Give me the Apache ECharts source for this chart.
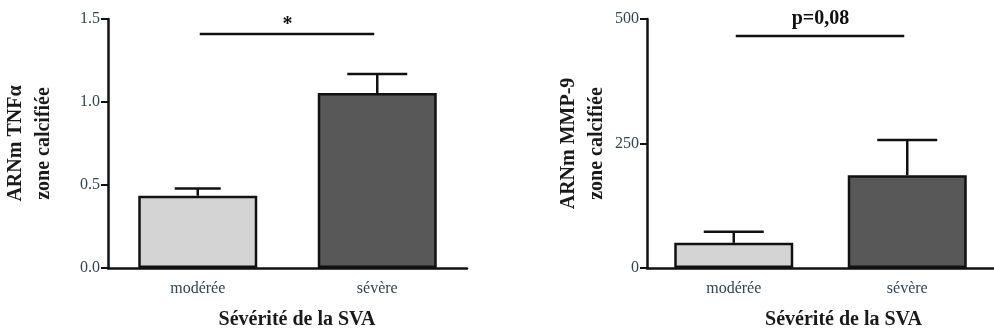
<!DOCTYPE html>
<html><head><meta charset="utf-8">
<script src="https://cdn.jsdelivr.net/npm/echarts@6/dist/echarts.min.js"></script>
<style>html,body{margin:0;padding:0;background:#fff}#c{width:994px;height:335px}</style>
</head><body><div id="c"></div>
<script>
// ---- data ----
const categories = ['modérée', 'sévère'];
const tnfMean = [0.435, 1.054];
const tnfUpper = [0.479, 1.168];
const mmpMean = [50.6, 186.4];
const mmpUpper = [72.7, 257];
const tnfTicks = [0, 0.5, 1.0, 1.5];
const mmpTicks = [0, 250, 500];
const tnfSig = [[0, 1, 1.41, '*']];
const mmpSig = [[0, 1, 466, 'p=0,08']];
const xName = 'Sévérité de la SVA';
const tnfName = 'ARNm TNFα\nzone calcifiée';
const mmpName = 'ARNm MMP-9\nzone calcifiée';

// ---- style ----
const serif = '"Liberation Serif","Times New Roman",serif';
const tickColor = '#2f4556';
const barColors = ['#d4d4d4', '#585858'];
const capW = [[46, 60], [60, 60]];

const chart = echarts.init(document.getElementById('c'));

function xAxisCfg(gi, pad) {
  return {
    type: 'category', gridIndex: gi, data: categories,
    axisLine: {lineStyle: {color: '#111', width: 2.5}},
    axisTick: {alignWithLabel: true, length: 6, lineStyle: {color: '#111', width: 2}},
    axisLabel: {fontFamily: serif, fontSize: 16, color: tickColor, margin: 13},
    name: xName, nameLocation: 'middle', nameGap: 42,
    nameTextStyle: {fontFamily: serif, fontSize: 20, fontWeight: 'bold', color: '#1a1a1a', padding: [0, 0, 0, pad]}
  };
}
function yAxisCfg(gi, max, interval, fmt, name, gap) {
  return {
    type: 'value', gridIndex: gi, min: 0, max: max, interval: interval,
    splitLine: {show: false},
    axisLine: {show: true, lineStyle: {color: '#111', width: 2.5}},
    axisTick: {show: true, length: 7, lineStyle: {color: '#111', width: 2}},
    axisLabel: {fontFamily: serif, fontSize: 16, color: tickColor, margin: 8, formatter: fmt},
    name: name, nameLocation: 'middle', nameGap: gap,
    nameTextStyle: {fontFamily: serif, fontSize: 20, fontWeight: 'bold', color: '#1a1a1a', lineHeight: 28}
  };
}

function errSeries(gi, means, uppers, caps) {
  return {
    type: 'custom', xAxisIndex: gi, yAxisIndex: gi, z: 5,
    data: means.map((m, i) => [i, m, uppers[i]]),
    renderItem: function (params, api) {
      const i = api.value(0);
      const p0 = api.coord([i, api.value(1)]);
      const p1 = api.coord([i, api.value(2)]);
      const w = caps[i] / 2;
      return {type: 'group', children: [
        {type: 'line', shape: {x1: p0[0], y1: p0[1], x2: p1[0], y2: p1[1]}, style: {stroke: '#111', lineWidth: 2.5}},
        {type: 'line', shape: {x1: p1[0] - w, y1: p1[1], x2: p1[0] + w, y2: p1[1]}, style: {stroke: '#111', lineWidth: 2.5}}
      ]};
    }
  };
}
function sigSeries(gi, sig, textGap) {
  return {
    type: 'custom', xAxisIndex: gi, yAxisIndex: gi, z: 6,
    data: sig,
    renderItem: function (params, api) {
      const a = api.coord([api.value(0), api.value(2)]);
      const b = api.coord([api.value(1), api.value(2)]);
      return {type: 'group', children: [
        {type: 'line', shape: {x1: a[0] + 2, y1: a[1], x2: b[0] - 3, y2: a[1]}, style: {stroke: '#111', lineWidth: 2.5}},
        {type: 'text', style: {x: (a[0] + b[0]) / 2, y: a[1] - textGap, text: sig[params.dataIndex][3],
          font: 'bold 20px ' + serif, fill: '#111', align: 'center', verticalAlign: 'middle'}}
      ]};
    }
  };
}
function barSeries(gi, means) {
  return {
    type: 'bar', xAxisIndex: gi, yAxisIndex: gi, barWidth: 119, z: 3,
    data: means.map((v, i) => ({value: v, itemStyle: {color: barColors[i]}})),
    itemStyle: {borderColor: '#111', borderWidth: 2.5}
  };
}

chart.setOption({
  animation: false,
  grid: [
    {left: 108, top: 19, width: 359, height: 256},
    {left: 647, top: 19, width: 356, height: 257}
  ],
  xAxis: [xAxisCfg(0, 19), xAxisCfg(1, 46)],
  yAxis: [
    yAxisCfg(0, 1.5, 0.5, v => v.toFixed(1), tnfName, 50),
    yAxisCfg(1, 500, 250, v => String(v), mmpName, 33)
  ],
  series: [
    barSeries(0, tnfMean), errSeries(0, tnfMean, tnfUpper, capW[0]), sigSeries(0, tnfSig, 9),
    barSeries(1, mmpMean), errSeries(1, mmpMean, mmpUpper, capW[1]), sigSeries(1, mmpSig, 17)
  ]
});
</script></body></html>
